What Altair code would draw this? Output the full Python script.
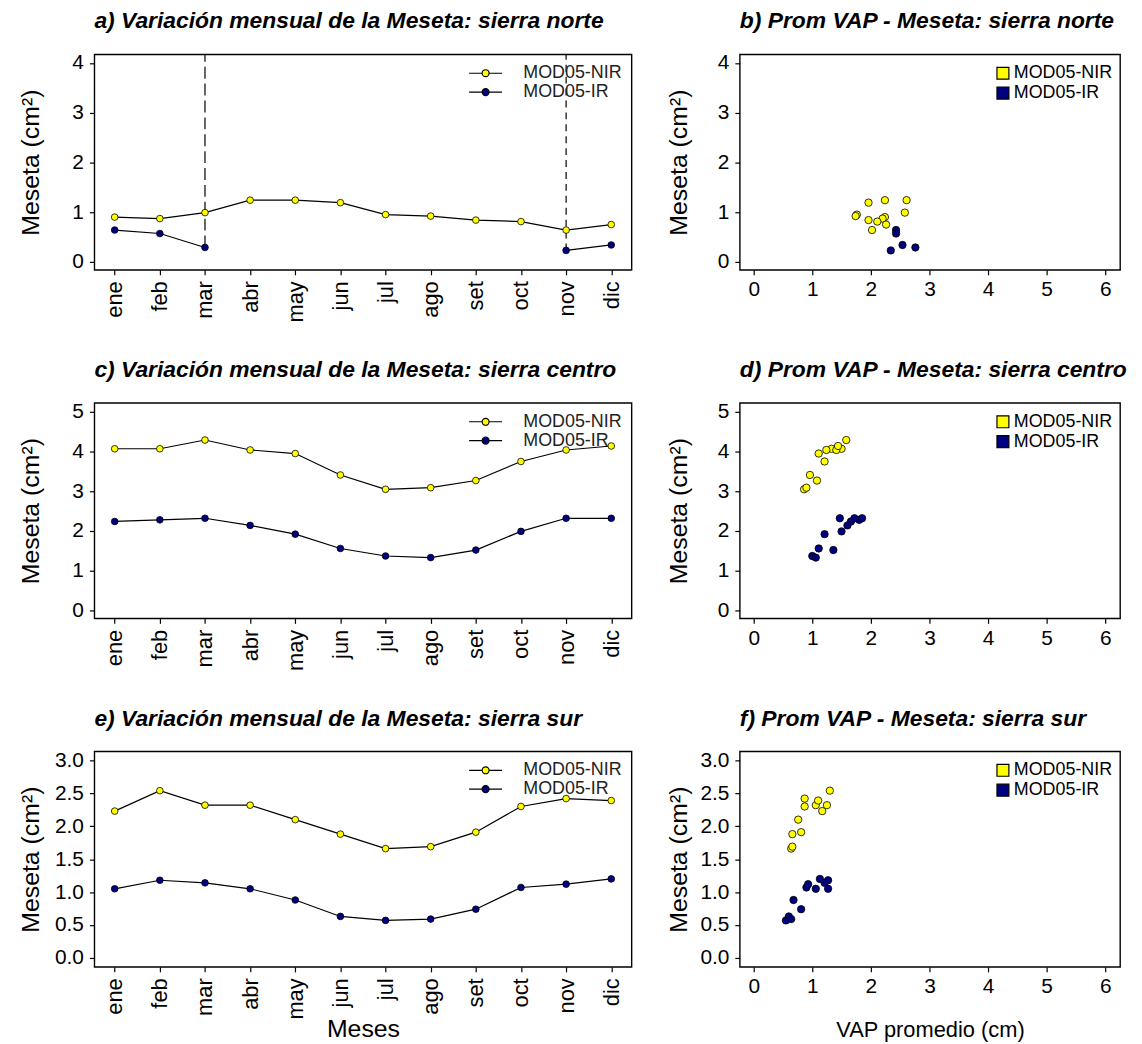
import altair as alt
import pandas as pd
import numpy as np

meses = ["ene", "feb", "mar", "abr", "may", "jun", "jul", "ago", "set", "oct", "nov", "dic"]
series = ["MOD05-NIR", "MOD05-IR"]
colores = ["#FFFF00", "#000080"]

# Meseta (cm2) por mes
norte_nir = [0.90, 0.87, 0.99, 1.24, 1.24, 1.19, 0.95, 0.92, 0.84, 0.81, 0.64, 0.75]
norte_ir = [0.64, 0.57, 0.29, None, None, None, None, None, None, None, 0.23, 0.34]
centro_nir = [4.07, 4.07, 4.29, 4.04, 3.95, 3.41, 3.05, 3.09, 3.27, 3.75, 4.04, 4.14]
centro_ir = [2.24, 2.28, 2.32, 2.14, 1.92, 1.56, 1.37, 1.33, 1.52, 1.99, 2.32, 2.32]
sur_nir = [2.23, 2.54, 2.32, 2.32, 2.10, 1.88, 1.66, 1.69, 1.91, 2.30, 2.42, 2.39]
sur_ir = [1.05, 1.18, 1.14, 1.05, 0.88, 0.63, 0.57, 0.59, 0.74, 1.07, 1.12, 1.20]

# VAP promedio (cm) por mes
norte_vap_nir = [2.24, 2.20, 2.58, 2.24, 2.61, 1.96, 1.76, 1.74, 1.96, 2.11, 2.02, 2.26]
norte_vap_ir = [2.43, 2.43, 2.76, None, None, None, None, None, None, None, 2.34, 2.54]
centro_vap_nir = [1.33, 1.50, 1.58, 1.24, 1.11, 0.96, 0.86, 0.90, 1.08, 1.21, 1.41, 1.44]
centro_vap_ir = [1.66, 1.80, 1.85, 1.60, 1.21, 1.11, 1.00, 1.06, 1.36, 1.50, 1.47, 1.72]
sur_vap_nir = [1.17, 1.30, 1.06, 1.25, 0.76, 0.66, 0.64, 0.66, 0.81, 0.87, 0.87, 1.10]
sur_vap_ir = [1.06, 1.27, 1.21, 1.27, 0.68, 0.60, 0.55, 0.64, 0.81, 0.90, 0.93, 1.13]

# meses con linea de corte (panel a)
corte_meses = ["mar", "nov"]

FONT = "Liberation Sans"


def tabla(nir, ir, vap_nir, vap_ir):
    filas = []
    for serie, vals, vaps in [(series[0], nir, vap_nir), (series[1], ir, vap_ir)]:
        seg = 0
        prev_missing = False
        for m, v, x in zip(meses, vals, vaps):
            if v is None:
                prev_missing = True
                continue
            if prev_missing:
                seg += 1
                prev_missing = False
            filas.append({"mes": m, "serie": serie, "meseta": v, "vap": x,
                          "grupo": f"{serie}-{seg}"})
    return pd.DataFrame(filas)


def titulo(txt):
    return alt.TitleParams(txt, anchor="start", frame="group", fontSize=23,
                           font=FONT, fontStyle="italic", fontWeight="bold",
                           color="black", baseline="bottom", offset=-4)


color_scale = alt.Scale(domain=series, range=colores)
LINE_SYMBOL = ("M-3.6,0H-0.76M0.76,0H3.6"
               "M0.76,0A0.76,0.76,0,1,1,-0.76,0A0.76,0.76,0,1,1,0.76,0Z")


def panel_mensual(df, txt, dom, ticks, fmt, xtitle, cortes=None):
    x = alt.X("mes:N", sort=meses,
              scale=alt.Scale(type="point", padding=0.45, domain=meses),
              axis=alt.Axis(title=xtitle, labelAngle=270, labelFontSize=22,
                            labelPadding=6, titleY=50, titleBaseline="top"))
    y = alt.Y("meseta:Q", scale=alt.Scale(domain=dom, nice=False, zero=False),
              axis=alt.Axis(values=ticks, format=fmt, title="Meseta (cm²)",
                            titleX=-51))
    base = alt.Chart(df)
    capas = []
    if cortes is not None:
        dashes = [[12, 5], [7, 5]]
        for m, d in zip(corte_meses, dashes):
            sub = cortes[cortes["mes"] == m]
            capas.append(
                alt.Chart(sub).mark_rule(color="black", strokeWidth=1.2,
                                         strokeDash=d)
                .encode(x=x, y=y, y2=alt.value(0)))
    lineas = base.mark_line(color="black", strokeWidth=1.2).encode(
        x=x, y=y, detail="grupo:N")
    puntos = base.mark_point(shape="circle", filled=True, size=45, opacity=1,
                             stroke="black", strokeWidth=0.8).encode(
        x=x, y=y,
        fill=alt.Fill("serie:N", scale=color_scale,
                      legend=alt.Legend(title=None, orient="none",
                                        legendX=385, legendY=10, padding=0,
                                        symbolType=LINE_SYMBOL, symbolSize=85,
                                        symbolStrokeColor="black",
                                        symbolStrokeWidth=1.2,
                                        labelOffset=29, rowPadding=1,
                                        labelFontSize=18, labelFont=FONT,
                                        labelColor="#222")))
    capas += [lineas, puntos]
    return alt.layer(*capas).properties(width=541, height=217, title=titulo(txt))


def panel_vap(df, txt, dom, ticks, fmt, xtitle):
    x = alt.X("vap:Q", scale=alt.Scale(domain=[-0.237, 6.254], nice=False, zero=False),
              axis=alt.Axis(values=[0, 1, 2, 3, 4, 5, 6], title=xtitle,
                            labelPadding=4, titleFontSize=22, titleY=53,
                            titleBaseline="top"))
    y = alt.Y("meseta:Q", scale=alt.Scale(domain=dom, nice=False, zero=False),
              axis=alt.Axis(values=ticks, format=fmt, title="Meseta (cm²)",
                            titleX=-49))
    return alt.Chart(df).mark_point(shape="circle", filled=True, size=55,
                                    opacity=1, stroke="black",
                                    strokeWidth=0.8).encode(
        x=x, y=y,
        fill=alt.Fill("serie:N", scale=color_scale,
                      legend=alt.Legend(title=None, orient="none",
                                        legendX=256, legendY=10, padding=0,
                                        symbolType="square", symbolSize=144,
                                        symbolStrokeColor="black",
                                        symbolStrokeWidth=1.2,
                                        labelOffset=2, rowPadding=2,
                                        labelFontSize=18, labelFont=FONT,
                                        labelColor="black"))
    ).properties(width=383, height=217, title=titulo(txt))


df_n = tabla(norte_nir, norte_ir, norte_vap_nir, norte_vap_ir)
df_c = tabla(centro_nir, centro_ir, centro_vap_nir, centro_vap_ir)
df_s = tabla(sur_nir, sur_ir, sur_vap_nir, sur_vap_ir)
cortes_n = df_n[(df_n["serie"] == "MOD05-IR") & (df_n["mes"].isin(corte_meses))]

dom_n, ticks_n = [-0.16, 4.17], [0, 1, 2, 3, 4]
dom_c, ticks_c = [-0.2, 5.225], [0, 1, 2, 3, 4, 5]
dom_s, ticks_s = [-0.136, 3.136], [0, 0.5, 1, 1.5, 2, 2.5, 3]

a = panel_mensual(df_n, "a) Variación mensual de la Meseta: sierra norte",
                  dom_n, ticks_n, "d", None, cortes_n)
b = panel_vap(df_n, "b) Prom VAP - Meseta: sierra norte", dom_n, ticks_n, "d", None)
c = panel_mensual(df_c, "c) Variación mensual de la Meseta: sierra centro",
                  dom_c, ticks_c, "d", None)
d = panel_vap(df_c, "d) Prom VAP - Meseta: sierra centro", dom_c, ticks_c, "d", None)
e = panel_mensual(df_s, "e) Variación mensual de la Meseta: sierra sur",
                  dom_s, ticks_s, ".1f", "Meses")
f = panel_vap(df_s, "f) Prom VAP - Meseta: sierra sur", dom_s, ticks_s, ".1f",
              "VAP promedio (cm)")

fila1 = alt.hconcat(a, b, spacing=33).resolve_scale(fill="independent")
fila2 = alt.hconcat(c, d, spacing=33).resolve_scale(fill="independent")
fila3 = alt.hconcat(e, f, spacing=33).resolve_scale(fill="independent")

chart = alt.vconcat(fila1, fila2, fila3, spacing=35).resolve_scale(
    fill="independent").properties(
    padding={"left": 10, "top": -3, "right": 5, "bottom": 5},
    background="white"
).configure_view(stroke="black", strokeWidth=1.4).configure_axis(
    domain=False, grid=False, tickColor="black", tickSize=5, tickWidth=1.2,
    labelFont=FONT, labelFontSize=21, labelColor="black", labelPadding=6,
    titleFont=FONT, titleFontSize=25, titleFontWeight="normal",
    titleColor="black"
).configure_legend(labelLimit=300)

chart.save("out.html", embed_options={"renderer": "svg", "actions": False})
